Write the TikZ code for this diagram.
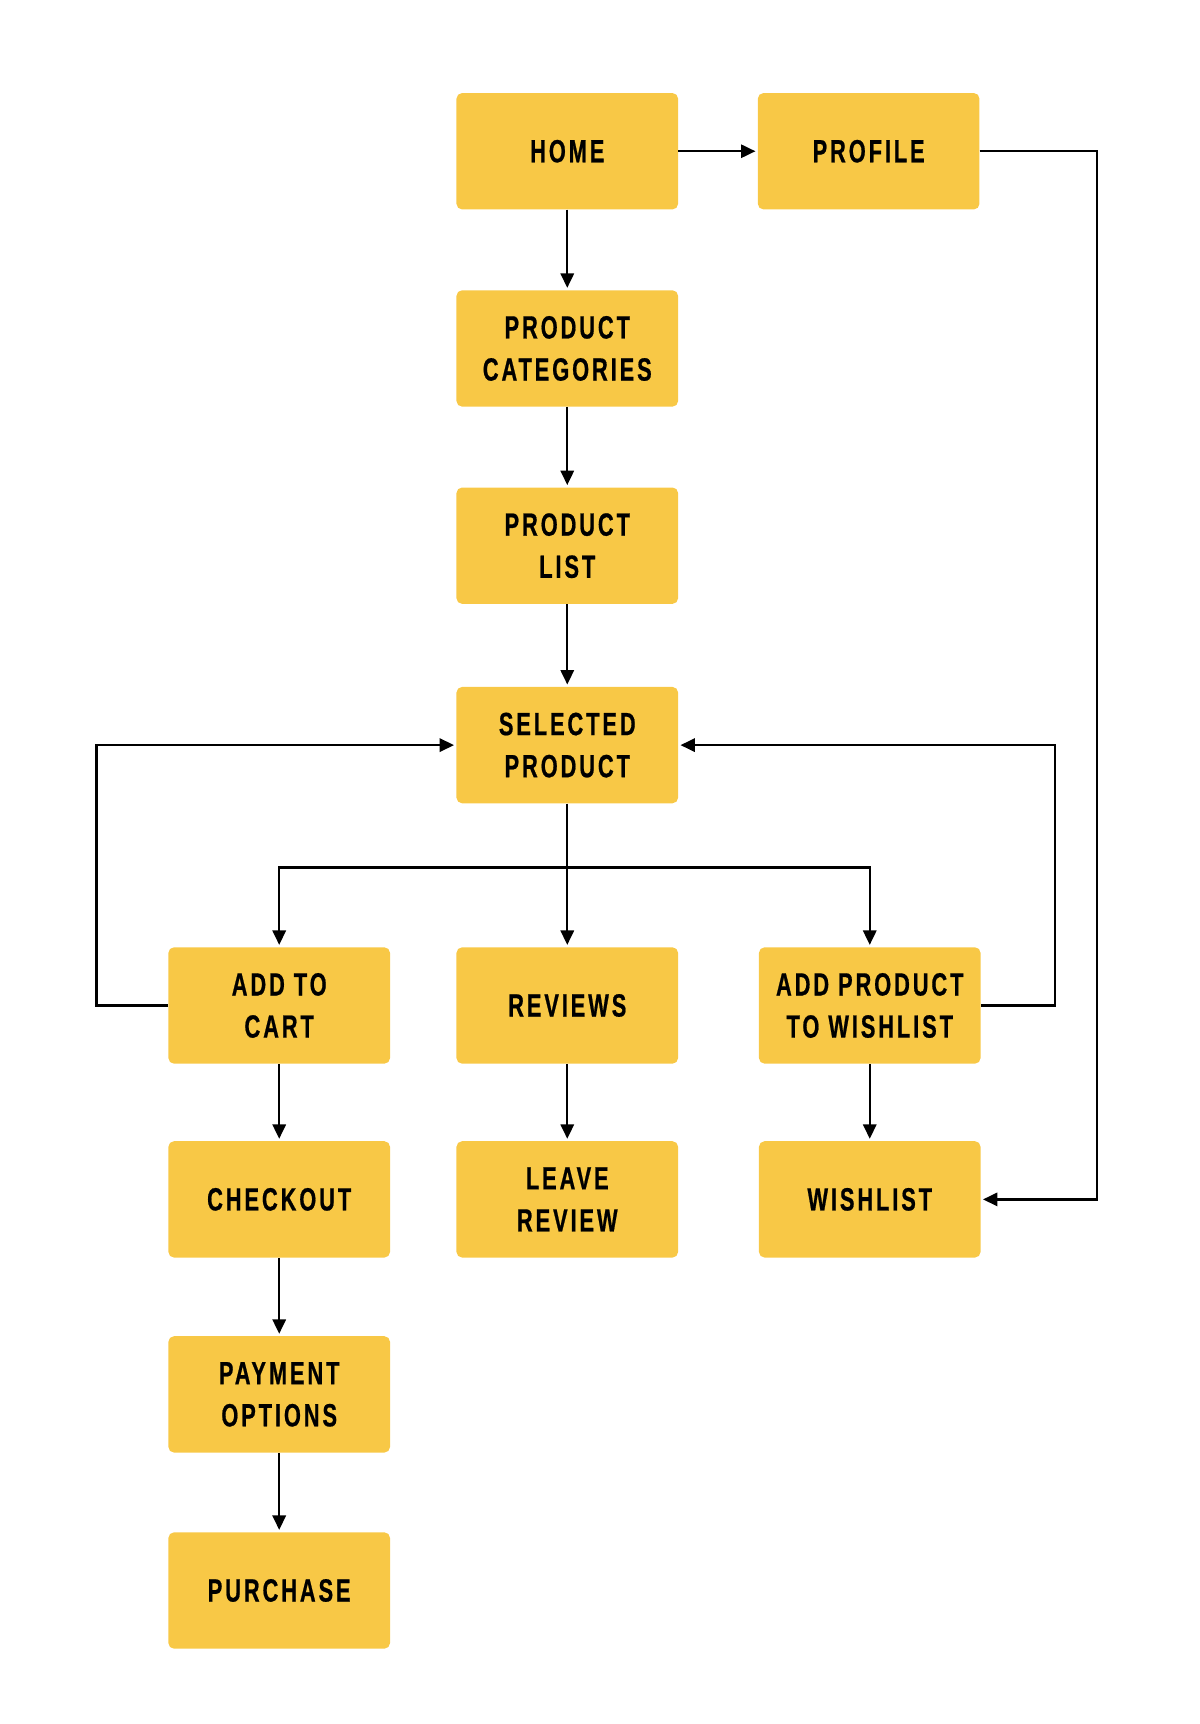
\documentclass[tikz,border=0pt]{standalone}
\usepackage{fontspec}
\setmainfont{Liberation Sans}[FakeStretch=0.68,LetterSpace=9,BoldFont={Liberation Sans Bold},BoldFeatures={FakeBold=0.6}]
\usetikzlibrary{arrows.meta}
\definecolor{boxy}{HTML}{F8C846}
\tikzset{
  box/.style={fill=boxy, draw=none, rounded corners=5pt, minimum width=200pt, minimum height=105pt,
    align=center, font=\fontsize{29}{38}\selectfont\bfseries, inner sep=0pt, text=black},
  arr/.style={draw=black, line width=2pt, -{Triangle[length=13pt,width=12pt]}, shorten >=2pt},
}
\begin{document}
\begin{tikzpicture}[x=1pt,y=-1pt]
\useasboundingbox (0,0) rectangle (1083,1556);
\node[box] (home) at (512,136.5) {HOME};
\node[box] (profile) at (784,136.5) {PROFILE};
\node[box] (cat) at (512,314.5) {PRODUCT\\CATEGORIES};
\node[box] (list) at (512,492.5) {PRODUCT\\LIST};
\node[box] (sel) at (512,672.5) {SELECTED\\PRODUCT};
\node[box] (cart) at (252,907.5) {ADD TO\\CART};
\node[box] (rev) at (512,907.5) {REVIEWS};
\node[box] (addw) at (785,907.5) {ADD PRODUCT\\TO WISHLIST};
\node[box] (chk) at (252,1082.5) {CHECKOUT};
\node[box] (leave) at (512,1082.5) {LEAVE\\REVIEW};
\node[box] (wish) at (785,1082.5) {WISHLIST};
\node[box] (pay) at (252,1258.5) {PAYMENT\\OPTIONS};
\node[box] (buy) at (252,1435.5) {PURCHASE};

\coordinate (br) at (512,783);
\coordinate (lloop) at (87,672.5);
\coordinate (rloop) at (952,672.5);
\coordinate (ploop) at (990,1082.5);

\draw[arr] (home) -- (profile);
\draw[arr] (home) -- (cat);
\draw[arr] (cat) -- (list);
\draw[arr] (list) -- (sel);
\draw[arr] (sel) -- (rev);
\draw[arr] (br) -| (cart.north);
\draw[arr] (br) -| (addw.north);
\draw[arr] (cart.west) -| (lloop) -- (sel.west);
\draw[arr] (addw.east) -| (rloop) -- (sel.east);
\draw[arr] (profile.east) -| (ploop) -- (wish.east);
\draw[arr] (cart) -- (chk);
\draw[arr] (rev) -- (leave);
\draw[arr] (addw) -- (wish);
\draw[arr] (chk) -- (pay);
\draw[arr] (pay) -- (buy);
\end{tikzpicture}
\end{document}
